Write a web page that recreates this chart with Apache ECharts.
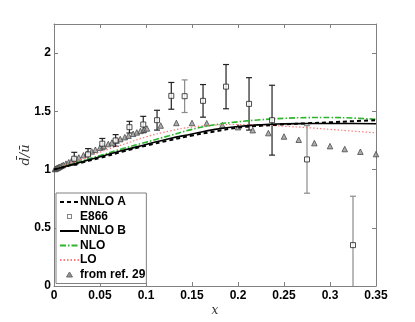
<!DOCTYPE html>
<html><head><meta charset="utf-8">
<script src="https://cdn.jsdelivr.net/npm/echarts@6/dist/echarts.min.js"></script>
<style>html,body{margin:0;padding:0;background:#fff}#c{width:415px;height:322px}</style>
</head><body><div id="c"></div>
<script>
// Theory curves
const curveX = [0, 0.025, 0.05, 0.075, 0.1, 0.125, 0.15, 0.175, 0.2, 0.225, 0.25, 0.275, 0.3, 0.325, 0.35];
const nnloA = [1.0, 1.05, 1.10, 1.155, 1.205, 1.25, 1.292, 1.328, 1.36, 1.376, 1.388, 1.397, 1.406, 1.415, 1.424];
const nnloB = [1.0, 1.055, 1.11, 1.165, 1.215, 1.265, 1.305, 1.345, 1.37, 1.385, 1.392, 1.395, 1.396, 1.395, 1.393];
const nlo   = [1.0, 1.06, 1.12, 1.18, 1.235, 1.29, 1.345, 1.385, 1.41, 1.428, 1.44, 1.446, 1.447, 1.442, 1.432];
const lo    = [1.0, 1.075, 1.15, 1.215, 1.28, 1.33, 1.365, 1.382, 1.387, 1.383, 1.372, 1.36, 1.345, 1.33, 1.316];

// E866 data
const e866X   = [0.022, 0.037, 0.0525, 0.067, 0.082, 0.097, 0.112, 0.1275, 0.142, 0.162, 0.187, 0.212, 0.237, 0.275, 0.325];
const e866Y   = [1.093, 1.13, 1.222, 1.25, 1.364, 1.387, 1.424, 1.633, 1.63, 1.59, 1.712, 1.564, 1.424, 1.087, 0.351];
const e866Err = [0.055, 0.05, 0.045, 0.05, 0.05, 0.07, 0.085, 0.115, 0.14, 0.14, 0.19, 0.225, 0.30, 0.29, 0.42];

// from ref. 29
const refX = [0.001,0.002,0.003,0.004,0.005,0.006,0.008,0.010,0.013,0.016,0.019,0.023,0.027,0.032,0.036,0.041,0.045,0.050,0.054,0.059,0.063,0.068,0.072,0.077,0.081,0.086,0.090,0.094,0.098,0.101,
  0.116,0.133,0.150,0.166,0.183,0.200,0.216,0.233,0.250,0.266,0.283,0.300,0.316,0.333,0.350];
const refY = [1.004,1.008,1.012,1.016,1.020,1.024,1.032,1.040,1.051,1.063,1.074,1.089,1.104,1.123,1.137,1.156,1.170,1.188,1.201,1.219,1.232,1.249,1.262,1.278,1.291,1.307,1.319,1.332,1.344,1.353,
  1.378,1.40,1.40,1.398,1.381,1.364,1.338,1.313,1.284,1.256,1.227,1.201,1.176,1.153,1.133];

const xTicks = [0, 0.05, 0.1, 0.15, 0.2, 0.25, 0.3, 0.35];
const yTicks = [0, 0.5, 1, 1.5, 2];
const legendNames = ['NNLO A', 'E866', 'NNLO B', 'NLO', 'LO', 'from ref. 29'];

const zip = (a, b) => a.map((v, i) => [v, b[i]]);
const grayBars = [8, 13, 14];
const svgIcon = s => 'image://data:image/svg+xml;charset=utf-8,' + encodeURIComponent(
  '<svg xmlns="http://www.w3.org/2000/svg" width="19" height="11" viewBox="0 0 19 11">' + s + '</svg>');
const squareIcon = svgIcon('<rect x="7.5" y="3.5" width="4" height="4" fill="#fff" stroke="#666" stroke-width="1"/>');
const triIcon = svgIcon('<polygon points="9.5,3 12.5,8 6.5,8" fill="#777" stroke="#444" stroke-width="1"/>');

const chart = echarts.init(document.getElementById('c'));
const axisLineStyle = { color: '#808080', width: 1 };
const labelFont = { fontFamily: 'Liberation Sans, Arial, sans-serif', fontWeight: 'bold', fontSize: 12, color: '#000' };
const axLine = { show: true, onZero: false, lineStyle: axisLineStyle };

chart.setOption({
  animation: false,
  grid: { left: 54, right: 39, top: 24, bottom: 34 },
  xAxis: [{
    type: 'value', min: 0, max: 0.35, interval: 0.05,
    axisLine: axLine,
    axisTick: { show: true, inside: true, length: 4, lineStyle: axisLineStyle },
    splitLine: { show: false },
    axisLabel: Object.assign({ margin: 4, formatter: v => xTicks.some(t => Math.abs(t - v) < 1e-9) ? String(+v.toFixed(2)) : '' }, labelFont),
    name: 'x', nameLocation: 'middle', nameGap: 19, nameMoveOverlap: false,
    nameTextStyle: { fontFamily: 'DejaVu Serif, serif', fontStyle: 'italic', fontSize: 12, color: '#333' }
  }, {
    type: 'value', min: 0, max: 0.35, interval: 0.05, position: 'top',
    axisLine: axLine,
    axisTick: { show: true, inside: true, length: 4, lineStyle: axisLineStyle },
    splitLine: { show: false }, axisLabel: { show: false }
  }],
  yAxis: [{
    type: 'value', min: 0, max: 2.25, interval: 0.5,
    axisLine: axLine,
    axisTick: { show: true, inside: true, length: 4, lineStyle: axisLineStyle },
    splitLine: { show: false },
    axisLabel: Object.assign({ margin: 3, formatter: v => yTicks.some(t => Math.abs(t - v) < 1e-9) ? String(v) : '' }, labelFont),
    name: 'd\u0304/u\u0304', nameLocation: 'middle', nameGap: 22, nameRotate: 90, nameMoveOverlap: false,
    nameTextStyle: { fontFamily: 'DejaVu Serif, serif', fontStyle: 'italic', fontSize: 13, color: '#333' }
  }, {
    type: 'value', min: 0, max: 2.25, interval: 0.5, position: 'right',
    axisLine: axLine,
    axisTick: { show: true, inside: true, length: 4, lineStyle: axisLineStyle },
    splitLine: { show: false }, axisLabel: { show: false }
  }],
  legend: {
    orient: 'vertical', left: 56, top: 193,
    backgroundColor: '#fff', borderColor: '#808080', borderWidth: 1,
    padding: [3, 1, 3, 3], itemGap: 2.5, itemWidth: 19, itemHeight: 11,
    textStyle: { fontFamily: 'Liberation Sans, Arial, sans-serif', fontWeight: 'bold', fontSize: 12, lineHeight: 12, color: '#000', padding: [0, 0, 0, -4] },
    data: legendNames.map(n => n === 'E866' ? { name: n, icon: squareIcon } : n === 'from ref. 29' ? { name: n, icon: triIcon } : n)
  },
  series: [
    {
      name: 'errbars', type: 'custom', clip: true, z: 3,
      data: e866X.map((x, i) => [x, e866Y[i] - e866Err[i], e866Y[i] + e866Err[i]]),
      renderItem: function (params, api) {
        const x = api.value(0);
        const lo = api.coord([x, api.value(1)]);
        const hi = api.coord([x, api.value(2)]);
        const cs = params.coordSys;
        const bottom = cs.y + cs.height;
        const lowY = Math.min(lo[1], bottom);
        const col = grayBars.indexOf(params.dataIndex) >= 0 ? '#8a8a8a' : '#222';
        const w = 3;
        const children = [
          { type: 'line', shape: { x1: hi[0], y1: hi[1], x2: hi[0], y2: lowY }, style: { stroke: col, lineWidth: 1.2 } },
          { type: 'line', shape: { x1: hi[0] - w, y1: hi[1], x2: hi[0] + w, y2: hi[1] }, style: { stroke: col, lineWidth: 1.2 } }
        ];
        if (lo[1] <= bottom) children.push({ type: 'line', shape: { x1: lo[0] - w, y1: lo[1], x2: lo[0] + w, y2: lo[1] }, style: { stroke: col, lineWidth: 1.2 } });
        return { type: 'group', children };
      }
    },
    {
      name: 'from ref. 29', type: 'scatter', symbol: 'triangle', symbolSize: 5.5, z: 4,
      itemStyle: { color: '#9a9a9a', borderColor: '#484848', borderWidth: 1 },
      data: zip(refX, refY)
    },
    {
      name: 'LO', type: 'line', smooth: true, showSymbol: false, z: 5,
      lineStyle: { color: '#ff7a7a', width: 1.2, type: [1.5, 2] }, itemStyle: { color: '#ff7a7a', opacity: 0 },
      data: zip(curveX, lo)
    },
    {
      name: 'NLO', type: 'line', smooth: true, showSymbol: false, z: 6,
      lineStyle: { color: '#2db52d', width: 1.6, type: [6, 2, 1.5, 2] }, itemStyle: { color: '#2db52d', opacity: 0 },
      data: zip(curveX, nlo)
    },
    {
      name: 'NNLO B', type: 'line', smooth: true, showSymbol: false, z: 7,
      lineStyle: { color: '#000', width: 1.6, type: 'solid' }, itemStyle: { color: '#000', opacity: 0 },
      data: zip(curveX, nnloB)
    },
    {
      name: 'NNLO A', type: 'line', smooth: true, showSymbol: false, z: 8,
      lineStyle: { color: '#000', width: 2, type: [4, 3] }, itemStyle: { color: '#000', opacity: 0 },
      data: zip(curveX, nnloA)
    },
    {
      name: 'E866', type: 'scatter', symbol: 'rect', symbolSize: 5, z: 9,
      itemStyle: { color: '#fff', borderColor: '#222', borderWidth: 1 },
      data: zip(e866X, e866Y)
    }
  ]
});
</script></body></html>
